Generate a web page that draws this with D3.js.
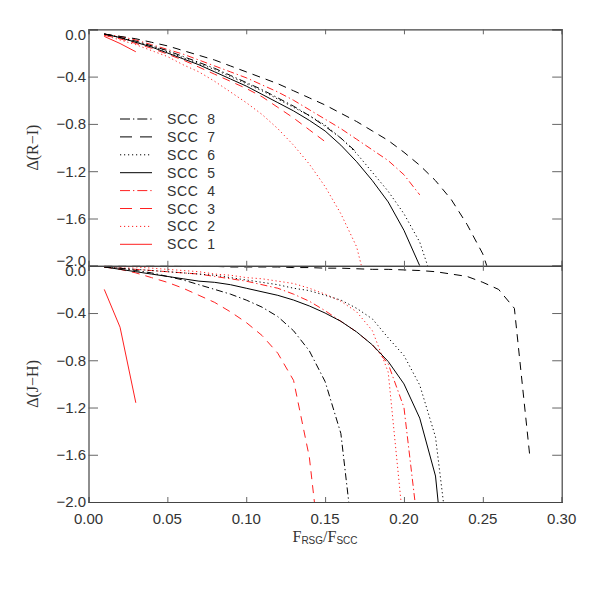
<!DOCTYPE html>
<html>
<head>
<meta charset="utf-8">
<script src="https://cdn.jsdelivr.net/npm/d3@7"></script>
<style>
  body { margin: 0; background: #fff; }
  text { font-family: "Liberation Sans", Arial, sans-serif; fill: #333; }
  .ttl { font-family: "Liberation Serif", "Times New Roman", serif; }
</style>
</head>
<body>
<div id="chart"></div>
<script>
// flux ratio grid (step 0.01, every curve starts at 0.01)
var fGrid = [0.01,0.02,0.03,0.04,0.05,0.06,0.07,0.08,0.09,0.10,0.11,0.12,0.13,0.14,
             0.15,0.16,0.17,0.18,0.19,0.20,0.21,0.22,0.23,0.24,0.25,0.26,0.27,0.28];

var names = ['SCC 1','SCC 2','SCC 3','SCC 4','SCC 5','SCC 6','SCC 7','SCC 8'];

// Delta(R-I) per cluster
var riScc1 = [-0.06,-0.12,-0.19];
var riScc2 = [-0.05,-0.09,-0.13,-0.18,-0.23,-0.30,-0.36,-0.44,-0.53,-0.62,-0.72,-0.84,-0.98,-1.14,-1.33,-1.56,-1.84,-2.37];
var riScc3 = [-0.05,-0.08,-0.12,-0.16,-0.21,-0.26,-0.32,-0.38,-0.44,-0.50,-0.57,-0.66,-0.75,-0.85,-0.95];
var riScc4 = [-0.04,-0.06,-0.09,-0.13,-0.17,-0.21,-0.26,-0.31,-0.36,-0.41,-0.47,-0.53,-0.60,-0.68,-0.76,-0.84,-0.93,-1.02,-1.11,-1.23,-1.40];
var riScc5 = [-0.04,-0.07,-0.11,-0.15,-0.20,-0.25,-0.30,-0.36,-0.42,-0.48,-0.55,-0.62,-0.69,-0.77,-0.86,-0.98,-1.12,-1.28,-1.46,-1.70,-2.00];
var riScc6 = [-0.04,-0.07,-0.11,-0.14,-0.19,-0.24,-0.29,-0.34,-0.40,-0.46,-0.52,-0.59,-0.66,-0.73,-0.81,-0.92,-1.05,-1.21,-1.37,-1.56,-1.80,-2.20];
var riScc7 = [-0.04,-0.06,-0.08,-0.11,-0.14,-0.18,-0.22,-0.26,-0.31,-0.36,-0.41,-0.46,-0.52,-0.58,-0.64,-0.71,-0.78,-0.86,-0.94,-1.04,-1.15,-1.28,-1.44,-1.65,-1.90,-2.30];
var riScc8 = [-0.04,-0.07,-0.10,-0.14,-0.18,-0.23,-0.28,-0.33,-0.39,-0.45,-0.51,-0.58,-0.65,-0.73,-0.82,-0.92,-1.04];

// Delta(J-H) per cluster
var jhScc1 = [-0.20,-0.52,-1.16];
var jhScc2 = [0.00,-0.01,-0.01,-0.02,-0.03,-0.04,-0.05,-0.07,-0.08,-0.10,-0.11,-0.13,-0.15,-0.19,-0.24,-0.30,-0.39,-0.55,-0.90,-2.25];
var jhScc3 = [-0.01,-0.03,-0.06,-0.10,-0.14,-0.19,-0.25,-0.31,-0.39,-0.48,-0.59,-0.74,-0.97,-1.62,-2.80];
var jhScc4 = [-0.01,-0.02,-0.03,-0.04,-0.05,-0.06,-0.07,-0.09,-0.11,-0.13,-0.16,-0.19,-0.24,-0.30,-0.38,-0.47,-0.56,-0.67,-0.83,-1.20,-2.34];
var jhScc5 = [-0.01,-0.03,-0.05,-0.07,-0.09,-0.11,-0.13,-0.14,-0.16,-0.19,-0.22,-0.25,-0.29,-0.34,-0.40,-0.47,-0.56,-0.67,-0.81,-1.00,-1.29,-1.78,-3.10];
var jhScc6 = [-0.01,-0.02,-0.03,-0.04,-0.05,-0.06,-0.07,-0.08,-0.10,-0.12,-0.14,-0.16,-0.19,-0.21,-0.25,-0.29,-0.36,-0.45,-0.61,-0.76,-1.01,-1.45,-2.55];
var jhScc7 = [0.00,0.00,0.00,0.00,0.00,-0.005,-0.005,-0.005,-0.01,-0.01,-0.01,-0.01,-0.015,-0.015,-0.02,-0.02,-0.025,-0.03,-0.03,-0.035,-0.04,-0.05,-0.07,-0.09,-0.14,-0.20,-0.36,-1.64];
var jhScc8 = [-0.01,-0.02,-0.04,-0.06,-0.09,-0.12,-0.16,-0.20,-0.24,-0.29,-0.35,-0.43,-0.55,-0.72,-0.98,-1.42,-2.58];

var xTicks = [0, 0.05, 0.10, 0.15, 0.20, 0.25, 0.30];
var xTickLabels = ['0.00','0.05','0.10','0.15','0.20','0.25','0.30'];
var yTicks = [0, -0.4, -0.8, -1.2, -1.6, -2.0];
var yTickLabels = ['0.0','\u22120.4','\u22120.8','\u22121.2','\u22121.6','\u22122.0'];

var riSeries = [riScc1, riScc2, riScc3, riScc4, riScc5, riScc6, riScc7, riScc8];
var jhSeries = [jhScc1, jhScc2, jhScc3, jhScc4, jhScc5, jhScc6, jhScc7, jhScc8];

// line style per cluster (1..8)
var colors = ['#ff2020','#ff2020','#ff2020','#ff2020','#000','#000','#000','#000'];
var dashes = ['none','1.2,2.8','8,6','7,3,1.3,3','none','1.2,2.8','8,6','7,3,1.3,3'];
var legendDashes = ['none','1.2,2.8','12,8','10,3,1.3,3','none','1.2,2.8','12,8','10,3,1.3,3'];

var W = 591, H = 591;
var left = 88.5, right = 561.7;
var topPanel = { y0: 29.3, y1: 265.8, title: '\u0394(R\u2212I)', data: riSeries };
var botPanel = { y0: 265.8, y1: 502, title: '\u0394(J\u2212H)', data: jhSeries };

var svg = d3.select('#chart').append('svg')
    .attr('width', W).attr('height', H);

var x = d3.scaleLinear().domain([0, 0.30]).range([left, right]);

function drawPanel(p, idx) {
    var y = d3.scaleLinear().domain([-2.0, 0]).range([p.y1, p.y0]);
    var clipId = 'clip' + idx;
    svg.append('clipPath').attr('id', clipId)
      .append('rect').attr('x', left).attr('y', p.y0)
      .attr('width', right - left).attr('height', p.y1 - p.y0);

    var line = d3.line()
        .x(function(d){ return x(d[0]); })
        .y(function(d){ return y(d[1]); });

    var g = svg.append('g').attr('clip-path', 'url(#' + clipId + ')');
    p.data.forEach(function(vals, i){
        var pts = vals.map(function(v, k){ return [fGrid[k], v]; });
        g.append('path')
          .attr('d', line(pts))
          .attr('fill', 'none')
          .attr('stroke', colors[i])
          .attr('stroke-width', 1)
          .attr('stroke-dasharray', dashes[i]);
    });

    // axes, IDL style: ticks inside
    var axL = d3.axisLeft(y).tickValues(yTicks).tickSize(-9.5).tickFormat('');
    var axR = d3.axisRight(y).tickValues(yTicks).tickSize(-9.5).tickFormat('');
    var axT = d3.axisTop(x).tickValues(xTicks).tickSize(-5).tickFormat('');
    var axB = d3.axisBottom(x).tickValues(xTicks).tickSize(-5).tickFormat('');
    [[axL,'translate(' + left + ',0)'],[axR,'translate(' + right + ',0)'],
     [axT,'translate(0,' + p.y0 + ')'],[axB,'translate(0,' + p.y1 + ')']].forEach(function(a){
        var ga = svg.append('g').attr('transform', a[1]).call(a[0]);
        ga.select('.domain').attr('stroke', '#444').attr('stroke-width', 1.2);
        ga.selectAll('.tick line').attr('stroke', '#666');
    });

    // y tick labels (the shared -2.0 / 0.0 pair is nudged apart like the original)
    svg.append('g').selectAll('text').data(yTicks).enter().append('text')
      .attr('x', 86)
      .attr('y', function(d){
          var c = y(d);
          if (idx === 0 && d === -2.0) c -= 5.5;
          if (d === 0) c += 5;
          return c;
      })
      .attr('dy', '0.36em')
      .attr('text-anchor', 'end')
      .style('font-size', '15px')
      .text(function(d, i){ return yTickLabels[i]; });

    svg.append('text').attr('class', 'ttl')
      .attr('transform', 'translate(38,' + ((p.y0 + p.y1) / 2) + ') rotate(-90)')
      .attr('text-anchor', 'middle')
      .style('font-size', '16px')
      .text(p.title);
}

drawPanel(topPanel, 0);
drawPanel(botPanel, 1);

// x tick labels under bottom panel
svg.append('g').selectAll('text').data(xTicks).enter().append('text')
  .attr('x', function(d){ return x(d); })
  .attr('y', 523.5)
  .attr('text-anchor', 'middle')
  .style('font-size', '15px')
  .text(function(d, i){ return xTickLabels[i]; });

// x axis title F_RSG / F_SCC
var xt = svg.append('text').attr('class', 'ttl')
  .attr('x', 325).attr('y', 542)
  .attr('text-anchor', 'middle')
  .style('font-size', '16px');
xt.append('tspan').text('F');
xt.append('tspan').attr('dy', 2).style('font-size', '10px').style('font-family', 'Liberation Sans').text('RSG');
xt.append('tspan').attr('dy', -2).text('/F');
xt.append('tspan').attr('dy', 2).style('font-size', '10px').style('font-family', 'Liberation Sans').text('SCC');

// legend, SCC 8 at top
var order = [7,6,5,4,3,2,1,0];
var leg = svg.append('g');
order.forEach(function(i, r){
    var yy = 119 + r * 17.9;
    leg.append('line')
      .attr('x1', 120).attr('x2', 152).attr('y1', yy).attr('y2', yy)
      .attr('stroke', colors[i]).attr('stroke-width', 1)
      .attr('stroke-dasharray', legendDashes[i]);
    leg.append('text')
      .attr('x', 167).attr('y', yy).attr('dy', '0.36em')
      .style('font-size', '14px')
      .style('letter-spacing', '0.6px')
      .text(names[i].replace(' ', '\u00a0\u00a0'));
});
</script>
</body>
</html>
